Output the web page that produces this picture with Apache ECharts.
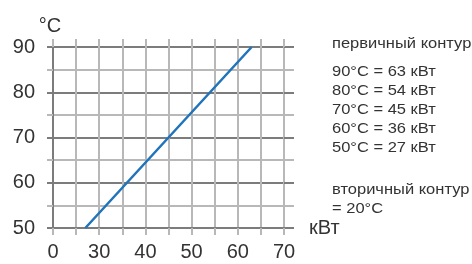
<!DOCTYPE html>
<html>
<head>
<meta charset="utf-8">
<script src="https://cdn.jsdelivr.net/npm/echarts@6/dist/echarts.min.js"></script>
<style>
  html, body { margin: 0; padding: 0; background: #fff; }
  #chart { width: 472px; height: 264px; }
</style>
</head>
<body>
<div id="chart"></div>
<script>
// мощность первичного контура, кВт
var powerKw = [27, 36, 45, 54, 63];
// температура первичного контура, °C
var tempC = [50, 60, 70, 80, 90];
// подписи оси X (ось начинается с 20, подписана как 0)
var xTickValues = [20, 30, 40, 50, 60, 70];
var xTickLabels = ['0', '30', '40', '50', '60', '70'];
var secondaryTemp = 20;

var font = '"Liberation Sans", Arial, sans-serif';
var dark = '#7c7c7c';
var light = '#b8b8b8';
var textColor = '#333';

var points = powerKw.map(function (p, i) { return [p, tempC[i]]; });

// текст справа: строки и их вертикальные центры
var noteLines = ['первичный контур'];
for (var i = tempC.length - 1; i >= 0; i--) {
    noteLines.push(tempC[i] + '°C = ' + powerKw[i] + ' кВт');
}
noteLines.push('вторичный контур', '= ' + secondaryTemp + '°C');
var noteY = [44, 72, 91, 110, 129, 148, 190, 209];

var graphics = noteLines.map(function (t, i) {
    return {
        type: 'text', x: 332, y: noteY[i], scaleX: 1.1,
        style: { text: t, x: 0, y: 0, font: '15px ' + font, fill: textColor, verticalAlign: 'middle' }
    };
});

var chart = echarts.init(document.getElementById('chart'), null, { renderer: 'canvas' });

var baseX = { type: 'value', min: 20, max: 70, interval: 5, gridIndex: 0 };
var baseY = { type: 'value', min: 50, max: 90, interval: 5, gridIndex: 0 };

chart.setOption({
    animation: false,
    grid: { left: 53, top: 47, width: 231, height: 181 },
    xAxis: [
        Object.assign({}, baseX, {
            position: 'bottom',
            name: 'кВт',
            nameLocation: 'end',
            nameGap: 25,
            nameTextStyle: { fontSize: 20, color: textColor, fontFamily: font, verticalAlign: 'middle' },
            axisLine: { show: true, lineStyle: { color: dark, width: 2 } },
            axisTick: { show: true, length: 7, lineStyle: { color: light, width: 2 } },
            axisLabel: {
                margin: 14, fontSize: 20, color: textColor, fontFamily: font,
                formatter: function (v) {
                    var k = xTickValues.indexOf(v);
                    return k >= 0 ? xTickLabels[k] : '';
                }
            },
            splitLine: { show: true, lineStyle: { color: light, width: 2 } }
        }),
        Object.assign({}, baseX, {
            position: 'top',
            axisLine: { show: false },
            axisTick: { show: true, length: 8, lineStyle: { color: light, width: 2 } },
            axisLabel: { show: false },
            splitLine: { show: false }
        })
    ],
    yAxis: [
        Object.assign({}, baseY, {
            position: 'left',
            name: '°C',
            nameLocation: 'end',
            nameGap: 11,
            nameTextStyle: { fontSize: 20, color: textColor, fontFamily: font, align: 'center', padding: [0, 6, 0, 0] },
            axisLine: { show: true, lineStyle: { color: dark, width: 2 } },
            axisTick: { show: true, length: 6, lineStyle: { color: light, width: 2 } },
            axisLabel: {
                margin: 18, fontSize: 20, color: textColor, fontFamily: font,
                formatter: function (v) { return v % 10 === 0 ? String(v) : ''; }
            },
            splitLine: { show: true, lineStyle: { color: [dark, light], width: 2 } }
        }),
        Object.assign({}, baseY, {
            position: 'left',
            interval: 10,
            axisLine: { show: false },
            axisTick: { show: true, length: 6, lineStyle: { color: dark, width: 2 } },
            axisLabel: { show: false },
            splitLine: { show: false }
        }),
        Object.assign({}, baseY, {
            position: 'right',
            axisLine: { show: false },
            axisTick: { show: true, length: 10, lineStyle: { color: light, width: 2 } },
            axisLabel: { show: false },
            splitLine: { show: false }
        }),
        Object.assign({}, baseY, {
            position: 'right',
            interval: 10,
            axisLine: { show: false },
            axisTick: { show: true, length: 10, lineStyle: { color: dark, width: 2 } },
            axisLabel: { show: false },
            splitLine: { show: false }
        })
    ],
    series: [{
        type: 'line',
        data: points,
        showSymbol: false,
        lineStyle: { color: '#1f74bb', width: 2.5 },
        z: 10
    }],
    graphic: graphics
});
</script>
</body>
</html>
